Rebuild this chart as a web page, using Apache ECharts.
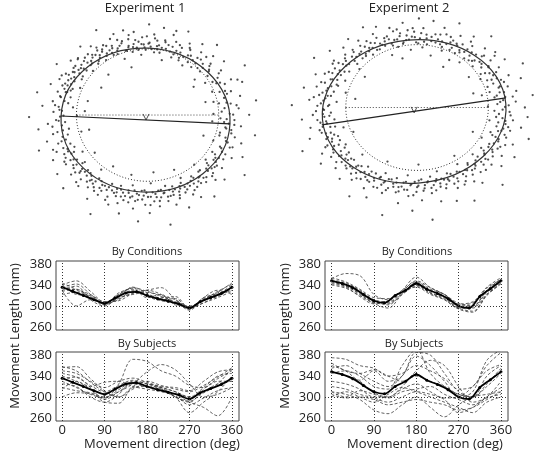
<!DOCTYPE html>
<html>
<head>
<meta charset="utf-8">
<script src="https://cdn.jsdelivr.net/npm/echarts@6/dist/echarts.min.js"></script>
<style>
  html, body { margin: 0; padding: 0; background: #fff; }
  #chart { width: 537px; height: 452px; }
</style>
</head>
<body>
<div id="chart"></div>
<script>
// ---- data -------------------------------------------------------------

// movement directions (deg) of the dashed curves
var DIR = [0, 30, 60, 90, 120, 150, 180, 210, 240, 270, 300, 330, 360];
// directions of the grand mean curve (dots)
var DIR_MEAN = [0, 22.5, 45, 67.5, 90, 112.5, 135, 157.5, 180, 202.5, 225, 247.5, 270, 292.5, 315, 337.5, 360];

var LEN_TICKS = [260, 300, 340, 380];
var DIR_TICKS = [0, 90, 180, 270, 360];

// experiment 1, grand mean movement length (mm)
var exp1Mean = [336, 328, 320, 312, 305, 315, 325, 327, 320, 314, 309, 304, 296, 308, 316, 324, 336];
// experiment 1, one curve per condition
var exp1Cond = [
  [340, 348, 328, 308, 318, 330, 322, 314, 308, 298, 312, 322, 340],
  [330, 300, 312, 306, 322, 335, 328, 320, 312, 298, 314, 325, 330],
  [335, 342, 322, 304, 312, 328, 320, 316, 318, 296, 306, 320, 335],
  [322, 326, 316, 304, 322, 334, 318, 310, 305, 295, 316, 330, 322],
  [336, 330, 318, 304, 314, 325, 330, 335, 312, 292, 312, 318, 336],
  [342, 322, 320, 303, 325, 332, 316, 322, 302, 300, 312, 328, 342],
  [330, 338, 312, 300, 316, 322, 326, 318, 307, 294, 316, 322, 330],
  [344, 332, 322, 308, 310, 324, 330, 322, 304, 298, 310, 326, 344],
  [328, 332, 316, 302, 318, 336, 324, 312, 314, 296, 306, 316, 328]
];
// experiment 1, one curve per subject
var exp1Subj = [
  [356, 358, 335, 312, 300, 320, 330, 322, 315, 310, 322, 338, 356],
  [330, 318, 305, 298, 325, 372, 368, 350, 340, 322, 318, 330, 330],
  [318, 312, 308, 300, 310, 325, 348, 362, 352, 325, 300, 305, 318],
  [340, 330, 315, 290, 288, 318, 320, 312, 300, 270, 290, 310, 340],
  [300, 308, 306, 298, 314, 328, 320, 315, 305, 290, 280, 264, 300],
  [350, 345, 330, 318, 330, 336, 328, 320, 318, 312, 330, 348, 352],
  [325, 320, 300, 290, 305, 330, 325, 315, 300, 292, 310, 325, 330],
  [335, 338, 318, 295, 310, 325, 320, 318, 310, 300, 318, 340, 345],
  [345, 338, 322, 310, 322, 332, 325, 318, 300, 290, 315, 335, 350],
  [315, 330, 320, 328, 330, 320, 315, 310, 302, 285, 298, 312, 318],
  [358, 350, 328, 310, 300, 315, 325, 318, 310, 300, 308, 325, 355]
];

// experiment 2, grand mean movement length (mm)
var exp2Mean = [348, 343, 335, 322, 310, 306, 320, 330, 343, 332, 324, 314, 300, 296, 318, 333, 348];
var exp2Cond = [
  [352, 362, 358, 322, 312, 328, 348, 335, 322, 305, 300, 330, 352],
  [344, 338, 322, 305, 296, 322, 340, 325, 314, 296, 290, 322, 344],
  [350, 344, 330, 312, 308, 330, 355, 335, 322, 302, 306, 334, 350],
  [346, 338, 324, 308, 306, 325, 340, 326, 316, 298, 298, 326, 346],
  [340, 334, 320, 306, 304, 322, 338, 324, 312, 294, 288, 320, 342],
  [354, 346, 332, 316, 314, 330, 346, 332, 322, 304, 308, 336, 354],
  [348, 340, 326, 310, 302, 324, 344, 330, 318, 300, 300, 330, 350],
  [342, 336, 318, 304, 310, 326, 336, 322, 312, 296, 296, 322, 344]
];
var exp2Subj = [
  [375, 372, 360, 355, 340, 345, 360, 350, 335, 315, 320, 360, 385],
  [360, 350, 332, 350, 330, 340, 385, 380, 345, 310, 300, 340, 360],
  [310, 305, 295, 275, 268, 285, 300, 280, 262, 285, 300, 305, 310],
  [300, 310, 300, 290, 305, 318, 310, 300, 290, 280, 270, 290, 300],
  [330, 325, 315, 300, 300, 320, 350, 370, 360, 320, 290, 300, 330],
  [345, 350, 340, 320, 315, 360, 390, 345, 320, 305, 300, 320, 345],
  [310, 300, 312, 305, 298, 310, 315, 320, 305, 295, 285, 298, 305],
  [350, 340, 330, 308, 300, 315, 325, 310, 298, 300, 320, 350, 362],
  [355, 360, 345, 330, 320, 340, 378, 360, 330, 300, 310, 370, 390],
  [305, 298, 300, 295, 285, 290, 295, 290, 285, 275, 280, 295, 310],
  [365, 350, 345, 352, 340, 330, 340, 330, 320, 305, 300, 325, 355],
  [320, 315, 305, 298, 290, 300, 310, 305, 295, 270, 280, 300, 318]
];

// movement end points: [direction deg, length mm]
var exp1Pts = [
  [0.5,352],[2,298],[3.5,410],[5,335],[6,272],[8,372],[9.5,318],[11,444],[12,345],[14,301],
  [15.5,388],[17,326],[18,252],[20,360],[21.5,339],[23,415],[24.5,292],[26,350],[27,380],[29,322],
  [30.5,455],[32,338],[33.5,286],[35,366],[37,310],[38.5,398],
  [40,331],[41,262],[42.5,352],[44,318],[45,381],[46.5,303],[48,425],[49,338],[50.5,290],[52,362],
  [53,316],[54.5,392],[56,327],[57,275],[58.5,346],[60,308],[61,368],[62.5,296],[64,338],[65,410],
  [66.5,318],[68,285],[69,352],[70.5,306],[72,376],[73,330],[74.5,262],[76,345],[77,312],[78.5,395],
  [80,302],
  [81,338],[82,288],[83.5,362],[85,310],[86,326],[87,402],[88.5,296],[90,318],[91,348],[92,275],
  [93.5,330],[95,306],[96,372],[97,322],[98.5,290],[100,345],[101,312],[102,385],[103.5,300],[105,334],
  [106,268],[107,352],[108.5,318],[110,296],[111,365],[112,326],[113.5,308],[115,344],[116,420],[117,315],
  [118.5,338],[120,292],[121,356],[122,322],[123.5,372],[125,304],[126,340],[127,330],[128.5,395],[130,312],
  [131,348],[132,326],[133.5,286],[135,362],[136,336],[137,318],[138.5,378],[140,330],[141,350],[142,300],
  [143.5,342],[145,412],[146,325],[147,360],[148.5,315],[150,338],[151,282],[152,370],[153.5,330],[155,348],
  [156,310],[157,392],[158.5,325],[160,355],
  [161,300],[162.5,340],[164,430],[165,318],[167,362],[168.5,280],[170,335],[171,398],[172.5,320],[174,352],
  [175.5,260],[177,325],[178,445],[179.5,340],[181,305],[182,372],[183.5,318],[185,410],[186.5,292],[188,338],
  [189,356],[190.5,246],[192,322],[193,385],[194.5,312],[196,345],[197,425],[198.5,300],[200,332],
  [201,362],[202,290],[203.5,320],[205,388],[206,312],[207,340],[208.5,270],[210,328],[211,352],[212,305],
  [213.5,402],[215,318],[216,336],[217,286],[218.5,360],[220,312],[221,330],[222,420],[223.5,298],[225,345],
  [226,318],[227,372],[228.5,306],[230,325],[231,262],[232,352],[233.5,314],[235,338],[236,392],[237,300],
  [238.5,328],[240,356],[241,310],[242,440],[243.5,322],[245,290],[246,346],[247,315],[248.5,375],[250,302],
  [251,332],[252,285],[253.5,358],[255,310],[256,398],[257,322],[258.5,296],[260,345],[261,272],[262,318],
  [263.5,368],[265,305],[266,330],[267,420],[268.5,292],[270,312],[271,350],[272,300],[273.5,385],[275,318],
  [276,262],[277,338],[278.5,308],[280,362],[281,296],[282,326],[283.5,445],[285,310],[286,348],[287,284],
  [288.5,330],[290,372],
  [291,316],[292,295],[293.5,352],[295,326],[296,402],[297,306],[298.5,340],[300,318],[301,278],[302,362],
  [303.5,325],[305,388],[306,310],[307,345],[308.5,296],[310,330],[311,418],[312,318],[313.5,352],[315,300],
  [316,338],[317,268],[318.5,372],[320,325],[321,346],[322,398],[323.5,312],[325,336],[326,290],[327,362],
  [328.5,328],[330,452],
  [331,318],[332.5,348],[334,296],[335.5,375],[337,330],[338.5,412],[340,315],[341.5,352],[343,282],[344.5,338],
  [346,390],[347.5,325],[349,360],[350.5,300],[352,436],[353.5,342],[355,318],[356.5,378],[358,330],[359.5,266],
  [1.2,322],[4.2,348],[7.2,305],[10.2,366],[13.2,330],[16.2,282],[19.2,342],[22.2,318],[25.2,402],[28.2,336],
  [31.2,312],[34.2,352],[36.2,240],[39.2,326],
  [41.8,342],[43.3,300],[46,330],[47.6,360],[50,312],[51.5,335],[55,298],[57.8,322],[59.5,352],[61.8,286],
  [63.4,318],[66,345],[67.4,300],[70,328],[71.3,395],[74,312],[75.5,338],[77.8,290],[79.3,320],
  [80.6,315],[82.7,346],[84.2,300],[86.7,322],[88,352],[89.4,306],[91.6,320],[94,296],[95.6,338],[97.7,310],
  [99.3,362],[100.6,318],[102.6,300],[104.3,342],[106.7,326],[108,380],[109.3,310],[111.6,336],[113,298],[114.3,322],
  [116.6,352],[118,306],[119.3,330],[121.6,344],[123,312],[124.3,332],[126.6,296],[128,352],[129.3,322],[131.6,310],
  [133,340],[134.3,365],[136.6,305],[138,328],[139.3,350],[141.6,318],[143,336],[144.3,296],[146.6,348],[148,332],
  [149.3,370],[151.6,320],[153,342],[154.3,306],[156.6,335],[158,320],[159.3,232],[125.5,236],[102,228],[140,215],
  [163,336],[166,302],[169.3,350],[172,330],[176,312],[180,330],[184,355],[187.3,316],[191,300],[195,330],
  [199,372],[170,232],[190,215],
  [201.6,318],[204.3,338],[205.6,300],[209,352],[210.6,316],[214,330],[216.6,296],[219,342],[220.6,322],[223,312],
  [224.3,366],[226.6,300],[229,336],[230.6,318],[233,328],[234.3,296],[236.6,350],[239,312],[240.6,335],[244,308],
  [245.6,362],[249,322],[215,232],[238,224],
  [250.6,316],[253,300],[254.3,328],[256.6,340],[259,306],[260.6,324],[263,292],[264.3,336],[266.6,310],[269,328],
  [270.6,290],[273,318],[274.3,352],[276.6,300],[279,322],[280.6,340],[283,296],[284.3,312],[286.6,330],[289,305],
  [258,230],[280,218],
  [290.6,330],[293,310],[294.3,340],[296.6,316],[299,296],[300.6,332],[303,312],[304.3,350],[306.6,326],[309,306],
  [310.6,342],[313,318],[314.3,332],[316.6,300],[319,352],[320.6,314],[323,330],[324.3,302],[326.6,340],[329,316],
  [300,236],
  [332,330],[333.2,310],[336.2,346],[339.2,322],[342.2,362],[345.2,330],[348.2,300],[351.2,344],[354.2,322],[357.2,352],
  [359,312],[345,240]
];

var exp2Pts = [
  [0.5,362],[1.5,305],[3,420],[4,346],[5.5,282],[7,388],[8,330],[9.5,455],[11,352],[12,312],
  [13.5,398],[15,336],[16,268],[17.5,372],[19,344],[20,430],[21.5,300],[23,358],[24,392],[25.5,326],
  [27,462],[28,340],[29.5,290],[31,375],[32,318],[33.5,412],[35,345],[36,258],[37.5,366],[39,330],
  [40,402],[41.5,298],[43,352],[44,320],[45.5,384],[47,305],[48,438],[49.5,338],[51,276],[52,360],
  [53.5,322],[55,396],[56,310],[57.5,345],[59,262],[60,330],[61.5,372],[63,300],[64,342],[65.5,418],
  [67,318],[68,285],[69.5,356],[71,308],[72,380],[73.5,326],[75,252],[76,344],[77.5,312],[79,398],
  [80,296],[81.5,336],[83,280],[84,362],[85.5,318],[87,402],[88,300],[89.5,345],[91,324],[92,268],
  [93.5,352],[95,310],[96,385],[97.5,296],[99,330],[100,360],[101.5,286],[103,318],[104,372],[105.5,305],
  [107,340],[108,258],[109.5,322],[111,392],[112,312],[113.5,348],[115,298],[116,330],[117.5,410],[119,316],
  [120,352],[121.5,290],[123,335],[124,370],[125.5,308],[127,326],[128,398],
  [129.5,300],[131,342],[132,320],[133.5,382],[135,312],[136,356],[137.5,275],[139,336],[140,410],[141.5,322],
  [143,352],[144,298],[145.5,368],[147,330],[148,440],[149.5,316],[151,348],[152,290],[153.5,372],[155,335],
  [156,402],[157.5,312],[159,356],[160,328],[161.5,268],[163,380],[164,340],[165.5,425],[167,318],[168,362],
  [169.5,336],[171,292],[172,395],[173.5,350],[175,322],[176,458],[177.5,340],[179,366],
  [180,310],[181.5,378],[183,335],[184,420],[185.5,298],[187,352],[188,328],[189.5,392],[191,318],[192,360],
  [193.5,270],[195,340],[196,405],[197.5,312],[199,346],[200,325],[201.5,448],[203,300],[204,362],[205.5,330],
  [207,385],[208,288],[209.5,345],[211,318],[212,410],[213.5,335],[215,296],[216,358],[217.5,322],[219,376],
  [220,305],[221.5,340],[223,262],[224,330],[225.5,395],[227,315],[228,350],
  [229.5,300],[231,368],[232,322],[233.5,286],[235,345],[236,430],[237.5,310],[239,336],[240,372],[241.5,295],
  [243,325],[244,402],[245.5,305],[247,348],[248,278],[249.5,318],[251,362],[252,298],[253.5,335],[255,452],
  [256,312],[257.5,286],[259,346],[260,322],[261.5,390],[263,300],[264,330],[265.5,268],[267,356],[268,310],
  [269.5,418],[271,295],[272,338],[273.5,312],[275,375],[276,286],[277.5,325],[279,462],[280,302],[281.5,350],
  [283,280],[284,318],[285.5,392],[287,296],[288,332],
  [289.5,265],[291,345],[292,308],[293.5,410],[295,320],[296,288],[297.5,362],[299,312],[300,338],[301.5,440],
  [303,300],[304,352],[305.5,322],[307,275],[308,372],[309.5,318],[311,396],[312,330],[313.5,296],[315,358],
  [316,325],[317.5,455],[319,310],[320,345],[321.5,285],[323,368],[324,335],[325.5,402],[327,318],[328,352],
  [329.5,296],[331,380],[332,336],[333.5,425],[335,315],[336,358],[337.5,278],[339,342],[340,398],[341.5,326],
  [343,365],[344,302],[345.5,448],[347,340],[348,372],[349.5,318],[351,410],[352,350],[353.5,288],[355,376],
  [356,336],[357.5,430],[359,322],
  [2.2,336],[5,360],[6.6,318],[9,342],[10.4,380],[13,322],[14.4,352],[17,300],[18.4,338],[21,365],
  [22.4,325],[25,346],[26.4,310],[29,356],[30.4,332],[33,302],[34.4,342],[37,320],[38.4,390],[20,240],
  [41,330],[42.4,360],[45,312],[46.4,342],[49,322],[50.4,300],[53,338],[54.4,372],[57,318],[58.4,298],
  [61,336],[62.4,312],[65,330],[66.4,352],[69,300],[70.4,322],[73,348],[74.4,310],[78,330],[60,225],
  [81,320],[82.4,305],[85,340],[86.4,296],[89,322],[90.4,360],[93,312],[94.4,330],[97,302],[98.4,342],
  [101,318],[102.4,355],[105,296],[106.4,326],[109,336],[110.4,304],[113,320],[114.4,368],[117,300],[118.4,338],
  [121,322],[122.4,310],[125,348],[126.4,300],[129,322],[100,235],
  [130.4,352],[134,332],[135.4,296],[138,346],[139.4,318],[142,336],[143.4,372],[146,312],[147.4,350],[150,328],
  [151.4,362],[154,318],[155.4,342],[158,305],[159.4,370],[162,338],[163.4,312],[166,352],[167.4,330],[170,380],
  [171.4,342],[174,318],[175.4,362],[178,336],[140,238],[165,226],
  [181,340],[182.4,316],[185,362],[186.4,330],[190,346],[191.4,300],[194,355],[195.4,322],[198,338],[199.4,300],
  [202,330],[203.4,352],[206,312],[207.4,340],[210,298],[211.4,362],[214,326],[215.4,308],[218,342],[219.4,318],
  [222,300],[223.4,346],[226,330],[227.4,306],[200,240],
  [230,335],[232.6,352],[234,312],[236.6,328],[238,296],[240.6,338],[242,315],[244.6,350],[246,300],[248.6,330],
  [250,312],[252.6,346],[254,296],[256.6,325],[258,305],[260.6,340],[262,318],[264.6,296],[266,330],[268.6,305],
  [270,352],[272.6,318],[274,290],[276.6,335],[278,312],[280.6,298],[282,328],[284.6,342],[286,305],[288.6,318],
  [245,230],[275,222],
  [290.6,300],[292.2,330],[294.6,312],[297,340],[298.2,296],[300.6,325],[302.2,362],[304.6,306],[306.2,336],[308.6,312],
  [310.2,346],[312.6,302],[314.2,332],[316.6,318],[318.2,366],[320.6,330],[322.2,306],[324.6,345],[326.2,322],[328.6,310],
  [310,240],
  [330.6,342],[332.6,318],[334.2,352],[336.6,330],[338.2,372],[340.6,340],[342.2,312],[344.6,356],[346.2,328],[348.6,345],
  [350.2,362],[352.6,322],[354.2,348],[356.6,312],[358.2,366],[340,238]
];

// fitted ellipse and reference circle: [cx, cy, rx, ry (mm), tilt (deg)]
var exp1Fit = [[7, 3, 328, 300, -2.7]];
var exp1Circle = [[15, 24, 276, 276, 0]];
var exp1Axis = [[-321, 20], [335, -13]];
var exp1Diam = [[-261, 24], [291, 24]];
var exp1Centre = [[9, 16]];

var exp2Fit = [[3, 5, 346, 305, 5]];
var exp2Circle = [[14, 22, 268, 268, 0]];
var exp2Axis = [[-344, -52], [348, 63]];
var exp2Diam = [[-254, 22], [282, 22]];
var exp2Centre = [[3, 12]];

// ---- helpers ----------------------------------------------------------

function toXY(p) {
  var a = p[0] * Math.PI / 180;
  return [p[1] * Math.cos(a), p[1] * Math.sin(a)];
}

function fitItem(dash, width) {
  return function (params, api) {
    var c = api.coord([api.value(0), api.value(1)]);
    var s = api.size([api.value(2), api.value(3)], [api.value(0), api.value(1)]);
    return {
      type: 'ellipse',
      x: c[0], y: c[1],
      rotation: api.value(4) * Math.PI / 180,
      shape: { cx: 0, cy: 0, rx: s[0], ry: s[1] },
      style: { fill: 'none', stroke: '#333', lineWidth: width, lineDash: dash }
    };
  };
}

function scatterPanel(idx, pts, fit, circle, axis, diam, centre) {
  return [
    {
      type: 'scatter', xAxisIndex: idx, yAxisIndex: idx,
      data: pts.map(toXY), symbolSize: 2.3, clip: false,
      itemStyle: { color: '#222' }, silent: true, animation: false
    },
    {
      type: 'custom', xAxisIndex: idx, yAxisIndex: idx, data: circle,
      renderItem: fitItem([1, 2], 1), silent: true, animation: false, z: 3
    },
    {
      type: 'custom', xAxisIndex: idx, yAxisIndex: idx, data: fit,
      renderItem: fitItem(null, 1.2), silent: true, animation: false, z: 4
    },
    {
      type: 'line', xAxisIndex: idx, yAxisIndex: idx, data: axis, symbol: 'none',
      lineStyle: { color: '#222', width: 1.2 }, silent: true, animation: false, z: 4
    },
    {
      type: 'line', xAxisIndex: idx, yAxisIndex: idx, data: diam, symbol: 'none',
      lineStyle: { color: '#444', width: 1, type: [1, 2] }, silent: true, animation: false, z: 4
    },
    {
      type: 'scatter', xAxisIndex: idx, yAxisIndex: idx, data: centre,
      symbol: 'path://M0,0L5,9L10,0', symbolSize: [6, 6],
      itemStyle: { color: 'none', borderColor: '#222', borderWidth: 1 },
      silent: true, animation: false, z: 5
    }
  ];
}

function curvePanel(idx, rows, mean) {
  var out = rows.map(function (r) {
    return {
      type: 'line', xAxisIndex: idx, yAxisIndex: idx,
      data: DIR.map(function (d, i) { return [d, r[i]]; }),
      smooth: 0.35, symbol: 'none',
      lineStyle: { color: '#3a3a3a', width: 0.8, type: [3, 2] },
      silent: true, animation: false, z: 2
    };
  });
  out.push({
    type: 'line', xAxisIndex: idx, yAxisIndex: idx,
    data: DIR_MEAN.map(function (d, i) { return [d, mean[i]]; }),
    smooth: 0.3, symbol: 'circle', symbolSize: 3, showAllSymbol: true,
    itemStyle: { color: '#000' },
    lineStyle: { color: '#000', width: 1.8 },
    silent: true, animation: false, z: 4,
    markLine: {
      silent: true, symbol: ['none', 'none'], animation: false,
      label: { show: false },
      lineStyle: { color: '#333', width: 1, type: [1, 2] },
      data: DIR_TICKS.map(function (d) { return { xAxis: d }; }).concat([{ yAxis: 300 }])
    }
  });
  return out;
}

// ---- layout -----------------------------------------------------------

var FONT = '"Open Sans", "DejaVu Sans", sans-serif';

var grids = [
  { left: 20, top: 20, width: 250, height: 210 },
  { left: 287, top: 20, width: 250, height: 210 },
  { left: 56, top: 261, width: 183, height: 69 },
  { left: 56, top: 352, width: 183, height: 69 },
  { left: 325, top: 261, width: 183, height: 69 },
  { left: 325, top: 352, width: 183, height: 69 }
];
grids.forEach(function (g, i) {
  if (i >= 2) { g.show = true; g.borderColor = '#444'; g.borderWidth = 1; }
});

var hidden = { show: false };
var xAxes = [
  { type: 'value', gridIndex: 0, min: -480, max: 490, show: false },
  { type: 'value', gridIndex: 1, min: -475, max: 465, show: false }
];
var yAxes = [
  { type: 'value', gridIndex: 0, min: -455, max: 420, show: false },
  { type: 'value', gridIndex: 1, min: -500, max: 395, show: false }
];
[2, 3, 4, 5].forEach(function (g) {
  var bottom = (g === 3 || g === 5);
  xAxes.push({
    type: 'value', gridIndex: g, min: g < 4 ? -13 : -14, max: 375,
    axisLine: hidden, axisTick: hidden, splitLine: hidden,
    axisLabel: {
      show: bottom, customValues: DIR_TICKS, margin: 3,
      fontSize: 13, color: '#222', fontFamily: FONT
    }
  });
  yAxes.push({
    type: 'value', gridIndex: g, min: 254, max: 386,
    axisLine: hidden, axisTick: hidden, splitLine: hidden,
    axisLabel: {
      customValues: LEN_TICKS, margin: 4,
      fontSize: 13, color: '#222', fontFamily: FONT
    }
  });
});

function label(text, x, y, size, rot) {
  return {
    type: 'text', x: x, y: y, rotation: rot || 0, silent: true,
    style: {
      text: text, fill: '#222', font: size + 'px ' + FONT,
      textAlign: 'center', textVerticalAlign: 'middle'
    }
  };
}

var series = []
  .concat(scatterPanel(0, exp1Pts, exp1Fit, exp1Circle, exp1Axis, exp1Diam, exp1Centre))
  .concat(scatterPanel(1, exp2Pts, exp2Fit, exp2Circle, exp2Axis, exp2Diam, exp2Centre))
  .concat(curvePanel(2, exp1Cond, exp1Mean))
  .concat(curvePanel(3, exp1Subj, exp1Mean))
  .concat(curvePanel(4, exp2Cond, exp2Mean))
  .concat(curvePanel(5, exp2Subj, exp2Mean));

var chart = echarts.init(document.getElementById('chart'), null, { renderer: 'canvas' });
chart.setOption({
  backgroundColor: '#fff',
  animation: false,
  grid: grids,
  xAxis: xAxes,
  yAxis: yAxes,
  series: series,
  graphic: [
    label('Experiment 1', 145, 8, 13),
    label('Experiment 2', 409, 8, 13),
    label('By Conditions', 147, 252, 11),
    label('By Conditions', 417, 252, 11),
    label('By Subjects', 147, 344, 11),
    label('By Subjects', 414, 344, 11),
    label('Movement direction (deg)', 162, 444, 13),
    label('Movement direction (deg)', 425, 444, 13),
    label('Movement Length (mm)', 15, 336, 13, Math.PI / 2),
    label('Movement Length (mm)', 285, 336, 13, Math.PI / 2)
  ]
});
</script>
</body>
</html>
